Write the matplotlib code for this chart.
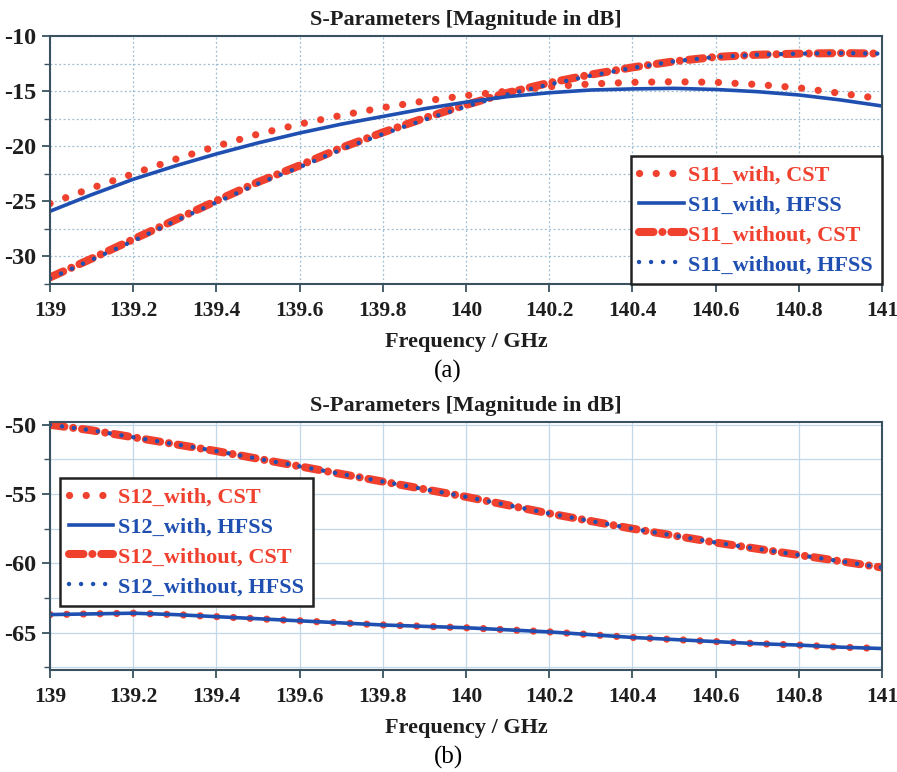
import matplotlib
matplotlib.use("Agg")
import matplotlib.pyplot as plt
from matplotlib.lines import Line2D
import numpy as np

# ---------------- data ----------------
freq = [139.0, 139.1, 139.2, 139.3, 139.4, 139.5, 139.6, 139.7, 139.8, 139.9, 140.0,
        140.1, 140.2, 140.3, 140.4, 140.5, 140.6, 140.7, 140.8, 140.9, 141.0]

s11_with_cst = [-25.2, -23.8, -22.5, -21.2, -20.0, -18.9, -18.0, -17.2, -16.5, -15.9, -15.4,
                -15.0, -14.6, -14.35, -14.2, -14.15, -14.2, -14.4, -14.7, -15.2, -15.7]
s11_with_hfss = [-25.9, -24.4, -23.0, -21.8, -20.7, -19.7, -18.8, -18.0, -17.3, -16.6, -16.0,
                 -15.5, -15.15, -14.9, -14.8, -14.75, -14.85, -15.05, -15.35, -15.8, -16.35]
s11_without_cst = [-31.9, -30.2, -28.45, -26.7, -24.95, -23.25, -21.75, -20.15, -18.75, -17.45, -16.25,
                   -15.15, -14.25, -13.5, -12.85, -12.3, -11.9, -11.7, -11.6, -11.55, -11.6]
s11_without_hfss = [-32.0, -30.3, -28.6, -26.8, -25.1, -23.4, -21.9, -20.3, -18.9, -17.6, -16.4,
                    -15.3, -14.4, -13.6, -12.9, -12.3, -11.9, -11.7, -11.6, -11.55, -11.6]

s12_with_cst = [-63.7, -63.65, -63.6, -63.7, -63.85, -64.0, -64.15, -64.3, -64.45, -64.55, -64.65,
                -64.8, -64.95, -65.15, -65.35, -65.5, -65.65, -65.8, -65.9, -66.05, -66.15]
s12_with_hfss = [-63.7, -63.65, -63.6, -63.7, -63.85, -64.0, -64.15, -64.3, -64.45, -64.55, -64.65,
                 -64.8, -64.95, -65.15, -65.35, -65.5, -65.65, -65.8, -65.9, -66.05, -66.15]
s12_without_cst = [-50.0, -50.4, -50.9, -51.4, -51.9, -52.45, -53.0, -53.55, -54.1, -54.65, -55.2,
                   -55.8, -56.4, -56.95, -57.5, -58.0, -58.5, -58.95, -59.4, -59.85, -60.3]
s12_without_hfss = [-50.0, -50.4, -50.9, -51.4, -51.9, -52.45, -53.0, -53.55, -54.1, -54.65, -55.2,
                    -55.8, -56.4, -56.95, -57.5, -58.0, -58.5, -58.95, -59.4, -59.85, -60.3]

xticks = [139, 139.2, 139.4, 139.6, 139.8, 140, 140.2, 140.4, 140.6, 140.8, 141]
xticklabels = ["139", "139.2", "139.4", "139.6", "139.8", "140", "140.2", "140.4", "140.6", "140.8", "141"]
yticks_a = [-30, -25, -20, -15, -10]
yticks_b = [-65, -60, -55, -50]

labels_a = ["S11_with, CST", "S11_with, HFSS", "S11_without, CST", "S11_without, HFSS"]
labels_b = ["S12_with, CST", "S12_with, HFSS", "S12_without, CST", "S12_without, HFSS"]

# ---------------- style ----------------
RED = "#f0402e"
BLUE = "#1f4fb0"
SPINE = "#3a5260"
SERIF = "Liberation Serif"

fig = plt.figure(figsize=(8.97, 7.72), dpi=100)

def px_axes(l, t, r, b):
    W, H = 897.0, 772.0
    return fig.add_axes([l / W, 1 - b / H, (r - l) / W, (b - t) / H])

ax1 = px_axes(50, 36, 882, 284)
ax2 = px_axes(50, 422, 882, 670)

red_dot = dict(color=RED, lw=5.2, linestyle=(0, (0.01, 2.3)), dash_capstyle="round")
blue_solid = dict(color=BLUE, lw=2.6, linestyle="-")
red_dashdot = dict(color=RED, lw=5.8, linestyle=(0, (1.8, 1.1, 0.01, 1.1)), dash_capstyle="round")
blue_dots = dict(color=BLUE, lw=3.2, linestyle=(0, (0.01, 2.7)), dash_capstyle="round")

def style_axes(ax, ylim, yticks, grid_dotted):
    ax.set_xticks(xticks)
    ax.set_xticklabels(xticklabels)
    ax.set_yticks(yticks)
    ax.set_yticklabels([str(v) for v in yticks])
    ax.set_yticks(np.arange(yticks[0] - 2.5, yticks[-1] + 2.6, 5.0), minor=True)
    ax.set_xlim(139, 141)
    ax.set_ylim(*ylim)
    for s in ax.spines.values():
        s.set_color(SPINE)
        s.set_linewidth(1.5)
    ax.tick_params(axis="x", which="major", direction="out", length=6, width=1.3,
                   color=SPINE, pad=6)
    ax.tick_params(axis="y", which="major", direction="out", length=6, width=1.3,
                   color=SPINE, pad=4)
    ax.tick_params(axis="y", which="minor", direction="out", length=4, width=1.0, color=SPINE)
    for lab in ax.get_xticklabels():
        lab.set_fontfamily(SERIF)
        lab.set_fontweight("bold")
        lab.set_fontsize(15.5)
        lab.set_color("#1e1e1e")
    for lab in ax.get_yticklabels():
        lab.set_fontfamily(SERIF)
        lab.set_fontweight("bold")
        lab.set_fontsize(17.5)
        lab.set_color("#1e1e1e")
    if grid_dotted:
        gk = dict(color="#9dbdd2", lw=0.9, linestyle=(0, (1.5, 2.0)))
    else:
        gk = dict(color="#c2d8e8", lw=0.9, linestyle="-")
    ax.grid(True, which="major", **gk)
    ax.grid(True, which="minor", axis="y", **gk)
    ax.set_axisbelow(True)
    ax.set_title("S-Parameters [Magnitude in dB]", fontfamily=SERIF, fontweight="bold",
                 fontsize=16, color="#1e1e1e", pad=8)
    ax.set_xlabel("Frequency / GHz", fontfamily=SERIF, fontweight="bold", fontsize=16,
                  color="#1e1e1e", labelpad=8)

def legend(ax, labels, **kw):
    handles = [Line2D([], [], **red_dot), Line2D([], [], **blue_solid),
               Line2D([], [], **red_dashdot), Line2D([], [], **blue_dots)]
    leg = ax.legend(handles, labels, prop={"family": SERIF, "weight": "bold", "size": 16},
                    handlelength=2.0, handletextpad=0.2, labelspacing=0.42,
                    fancybox=False, framealpha=1, edgecolor="#222222", borderpad=0.4, **kw)
    leg.get_frame().set_linewidth(1.8)
    for t, c in zip(leg.get_texts(), [RED, BLUE, RED, BLUE]):
        t.set_color(c)
    return leg

# ---------------- (a) ----------------
ax1.plot(freq, s11_with_cst, **red_dot)
ax1.plot(freq, s11_without_cst, **red_dashdot)
ax1.plot(freq, s11_with_hfss, **blue_solid)
ax1.plot(freq, s11_without_hfss, **blue_dots)
style_axes(ax1, (-32.5, -10), yticks_a, True)
legend(ax1, labels_a, loc="lower right", borderaxespad=0.0)

# ---------------- (b) ----------------
ax2.plot(freq, s12_without_cst, **red_dashdot)
ax2.plot(freq, s12_without_hfss, **blue_dots)
ax2.plot(freq, s12_with_cst, **red_dot)
ax2.plot(freq, s12_with_hfss, **blue_solid)
style_axes(ax2, (-67.7, -49.8), yticks_b, False)
legend(ax2, labels_b, loc="upper left", bbox_to_anchor=(0.012, 0.774), borderaxespad=0.0)

fig.text(448 / 897, 1 - 371 / 772, "(a)", fontfamily=SERIF, fontsize=18, ha="center", va="center")
fig.text(448 / 897, 1 - 757 / 772, "(b)", fontfamily=SERIF, fontsize=18, ha="center", va="center")

fig.savefig("out.png", dpi=100, facecolor="white")
